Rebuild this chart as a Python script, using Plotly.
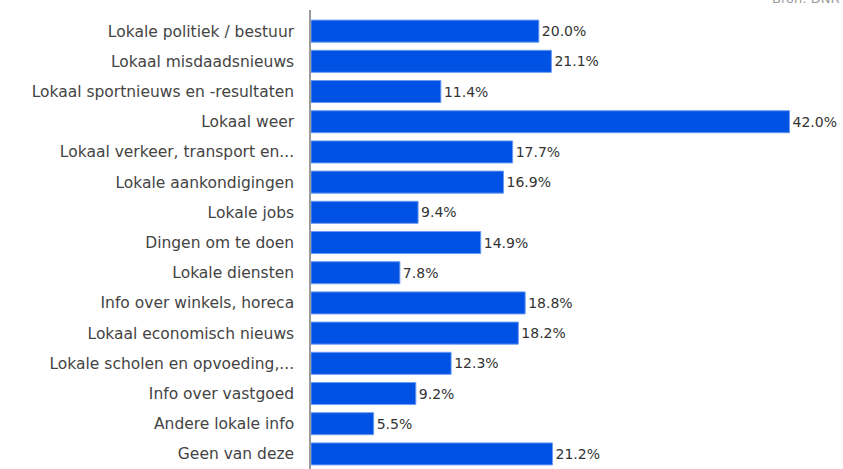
import plotly.graph_objects as go

categories = [
    "Lokale politiek / bestuur",
    "Lokaal misdaadsnieuws",
    "Lokaal sportnieuws en -resultaten",
    "Lokaal weer",
    "Lokaal verkeer, transport en...",
    "Lokale aankondigingen",
    "Lokale jobs",
    "Dingen om te doen",
    "Lokale diensten",
    "Info over winkels, horeca",
    "Lokaal economisch nieuws",
    "Lokale scholen en opvoeding,...",
    "Info over vastgoed",
    "Andere lokale info",
    "Geen van deze",
]
values = [20.0, 21.1, 11.4, 42.0, 17.7, 16.9, 9.4, 14.9, 7.8, 18.8, 18.2, 12.3, 9.2, 5.5, 21.2]
value_labels = [f"{v:.1f}%" for v in values]
source = "Bron: DNR"

FONT = "DejaVu Sans"

fig = go.Figure(go.Bar(
    x=values, y=categories, orientation="h",
    marker=dict(color="#0052E5", line=dict(color="#6a9cf0", width=1)),
    text=value_labels, textposition="outside", cliponaxis=False,
    textfont=dict(family=FONT, size=14, color="#333333"),
    width=0.73,
))

fig.update_layout(
    width=843, height=469,
    margin=dict(l=311, r=0, t=10, b=0),
    paper_bgcolor="white", plot_bgcolor="white",
    showlegend=False,
    font=dict(family=FONT, size=14, color="#444444"),
    xaxis=dict(range=[0, 46.7], visible=False, showgrid=False, zeroline=False),
    yaxis=dict(
        categoryorder="array", categoryarray=categories,
        range=[14.5, -0.7],
        showline=True, linecolor="#9a9a9a", linewidth=1.5,
        showgrid=False, zeroline=False,
        ticks="", ticklabelstandoff=12,
        tickfont=dict(family=FONT, size=15.5, color="#444444"),
    ),
    annotations=[dict(
        text=source, xref="paper", yref="paper", x=1, y=1.004,
        xanchor="right", yanchor="bottom", xshift=-2, showarrow=False,
        font=dict(family=FONT, size=13, color="#9a9a9a"),
    )],
)

fig.write_html(
    "out.html",
    config={"displayModeBar": False},
    post_script="document.body.style.margin='0';document.body.style.overflow='hidden';",
)
